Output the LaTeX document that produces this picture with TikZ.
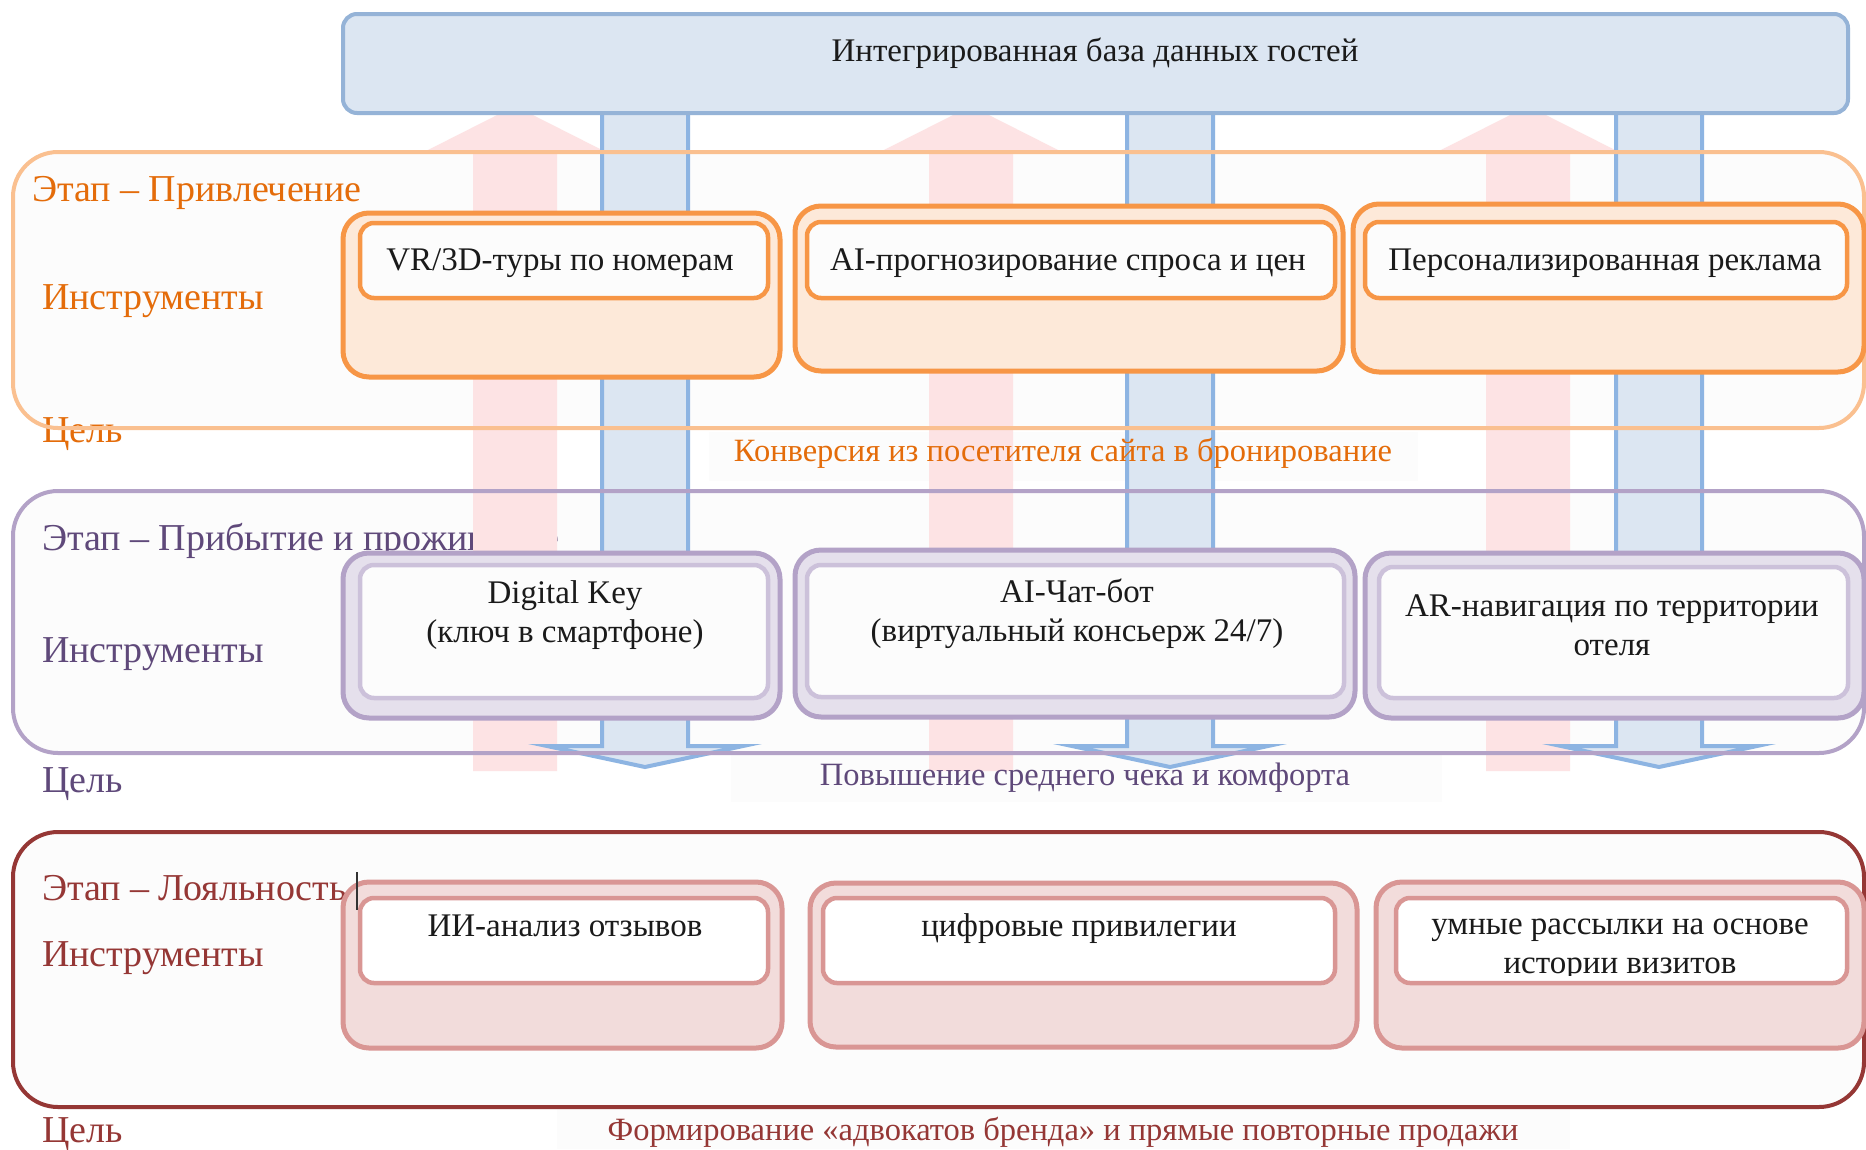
\documentclass[tikz,border=0pt]{standalone}
\usepackage{fontspec}
\setmainfont{Liberation Serif}
\usetikzlibrary{fit}
\definecolor{bgw}{HTML}{FCFCFC}
\definecolor{dbfill}{HTML}{DCE6F2}
\definecolor{dbline}{HTML}{95B3D7}
\definecolor{arrowblue}{HTML}{8DB4E2}
\definecolor{pinkarrow}{HTML}{FDE3E4}
\definecolor{orgstage}{HTML}{FAC090}
\definecolor{orgtool}{HTML}{F79646}
\definecolor{orgfill}{HTML}{FDE9D9}
\definecolor{orgtext}{HTML}{E46C0A}
\definecolor{purline}{HTML}{B3A2C7}
\definecolor{purinner}{HTML}{CCC1DA}
\definecolor{purfill}{HTML}{E5E0EC}
\definecolor{purtext}{HTML}{5F497A}
\definecolor{redline}{HTML}{953735}
\definecolor{redtool}{HTML}{D99694}
\definecolor{redfill}{HTML}{F2DCDB}
\definecolor{txtblack}{HTML}{1A1A1A}
\tikzset{
  every node/.style={inner sep=0pt, outer sep=0pt},
  stagebg/.style={fill=bgw, draw=none, rounded corners=45pt},
  stageline/.style={draw=#1, line width=4pt, rounded corners=45pt},
  goalbg/.style={fill=bgw, draw=none},
  dbbox/.style={draw=dbline, fill=dbfill, line width=4pt, rounded corners=14pt},
  toolout/.style 2 args={draw=#1, fill=#2, line width=5pt, rounded corners=26pt},
  toolin/.style 2 args={draw=#1, fill=#2, line width=4.5pt, rounded corners=14pt},
  lbl/.style={anchor=mid west, font=\fontsize{38}{45}\selectfont},
  tooltxt/.style={font=\fontsize{33}{39}\selectfont, align=center, text=txtblack},
  goaltxt/.style={font=\fontsize{32.5}{39}\selectfont},
  pinkarr/.style={fill=pinkarrow, draw=none},
  bluearr/.style={fill=dbfill, draw=arrowblue, line width=4pt, line join=miter}
}
\begin{document}
\begin{tikzpicture}[x=1pt,y=-1pt]
\useasboundingbox[fill=white] (0,0) rectangle (1866,1149);

% stage fills
\node[stagebg, fit={(13,152)(1864,428)}] (s1) {};
\node[stagebg, fit={(13,491)(1864,753)}] (s2) {};
\node[stagebg, fit={(13,832)(1864,1107)}] (s3) {};
% goal backgrounds
\node[goalbg, fit={(709,432)(1418,481)}] (g1bg) {};
\node[goalbg, fit={(731,753)(1442,802)}] (g2bg) {};
\node[goalbg, fit={(557,1109)(1570,1149)}] (g3bg) {};

% stage labels
\node[lbl, text=orgtext] (s1e) at (32,199) {Этап – Привлечение};
\node[lbl, text=orgtext] (s1i) at (42,307) {Инструменты};
\node[lbl, text=orgtext] (s1c) at (42,440) {Цель};
\node[lbl, text=purtext] (s2e) at (42,548) {Этап – Прибытие и проживание};
\node[lbl, text=purtext] (s2i) at (42,660) {Инструменты};
\node[lbl, text=purtext] (s2c) at (42,790) {Цель};
\node[lbl, text=redline] (s3e) at (42,898) {Этап – Лояльность};
\node[lbl, text=redline] (s3i) at (42,964) {Инструменты};
\node[lbl, text=redline] (s3c) at (42,1140) {Цель};

% pink up arrows
\foreach \c/\n in {515/pa1, 971/pa2, 1528/pa3} {
  \coordinate (\n) at (\c,106);
  \path[pinkarr] (\c-42,771) -- (\c-42,152) -- (\c-91,152) -- (\n) -- (\c+91,152) -- (\c+42,152) -- (\c+42,771) -- cycle;
}
% blue down arrows
\foreach \c/\n in {645/ba1, 1170/ba2, 1659/ba3} {
  \coordinate (\n) at (\c,767);
  \path[bluearr] (\c-43,113) -- (\c-43,746) -- (\c-98,746) -- (\n) -- (\c+98,746) -- (\c+43,746) -- (\c+43,113);
}

% database box
\node[dbbox, fit={(343,14)(1848,113)}] (db) {};
\node[tooltxt] (dbt) at (1095,53) {Интегрированная база данных гостей};

% stage outlines
\node[stageline=orgstage, fit={(13,152)(1864,428)}] (s1o) {};
\node[stageline=purline, fit={(13,491)(1864,753)}] (s2o) {};
\node[stageline=redline, fit={(13,832)(1864,1107)}] (s3o) {};

% stage 1 tools
\node[toolout={orgtool}{orgfill}, fit={(343,213)(780,377)}] (o1) {};
\node[toolin={orgtool}{bgw}, fit={(360,223)(768,298)}] (o1i) {};
\node[tooltxt] (o1t) at (560,263) {VR/3D-туры по номерам};
\node[toolout={orgtool}{orgfill}, fit={(795,206)(1343,371)}] (o2) {};
\node[toolin={orgtool}{bgw}, fit={(807,222)(1335,298)}] (o2i) {};
\node[tooltxt] (o2t) at (1068,263) {AI-прогнозирование спроса и цен};
\node[toolout={orgtool}{orgfill}, fit={(1353,204)(1864,372)}] (o3) {};
\node[toolin={orgtool}{bgw}, fit={(1365,222)(1847,298)}] (o3i) {};
\node[tooltxt] (o3t) at (1605,263) {Персонализированная реклама};

% stage 2 tools
\node[toolout={purline}{purfill}, fit={(343,553)(780,718)}] (p1) {};
\node[toolin={purinner}{bgw}, fit={(360,565)(768,698)}] (p1i) {};
\node[tooltxt] (p1t) at (565,615) {Digital Key\\(ключ в смартфоне)};
\node[toolout={purline}{purfill}, fit={(795,550)(1355,717)}] (p2) {};
\node[toolin={purinner}{bgw}, fit={(807,565)(1344,697)}] (p2i) {};
\node[tooltxt] (p2t) at (1077,614) {AI-Чат-бот\\(виртуальный консьерж 24/7)};
\node[toolout={purline}{purfill}, fit={(1365,553)(1864,718)}] (p3) {};
\node[toolin={purinner}{bgw}, fit={(1379,567)(1848,698)}] (p3i) {};
\node[tooltxt] (p3t) at (1612,625) {AR-навигация по территории\\отеля};

% stage 3 tools
\node[toolout={redtool}{redfill}, fit={(343,882)(782,1048)}] (r1) {};
\node[toolin={redtool}{white}, fit={(360,898)(768,983)}] (r1i) {};
\node[tooltxt] (r1t) at (565,926) {ИИ-анализ отзывов};
\node[toolout={redtool}{redfill}, fit={(810,883)(1357,1047)}] (r2) {};
\node[toolin={redtool}{white}, fit={(823,898)(1335,983)}] (r2i) {};
\node[tooltxt] (r2t) at (1079,929) {цифровые привилегии};
\node[toolout={redtool}{redfill}, fit={(1376,882)(1864,1048)}] (r3) {};
\node[toolin={redtool}{white}, fit={(1396,898)(1847,983)}] (r3i) {};
\begin{scope}
  \clip (1396,898) rectangle (1847,975);
  \node[tooltxt] (r3t) at (1620,950) {умные рассылки на основе\\истории визитов};
\end{scope}

% goals
\node[goaltxt, text=orgtext] (g1) at (1063,453) {Конверсия из посетителя сайта в бронирование};
\node[goaltxt, text=purtext] (g2) at (1085,778) {Повышение среднего чека и комфорта};
\node[goaltxt, text=redline] (g3) at (1063,1132) {Формирование «адвокатов бренда» и прямые повторные продажи};

% text cursor
\coordinate (cur1) at (357,872);
\coordinate (cur2) at (357,910);
\draw[line width=1.2pt, black!80] (cur1) -- (cur2);
\end{tikzpicture}
\end{document}
